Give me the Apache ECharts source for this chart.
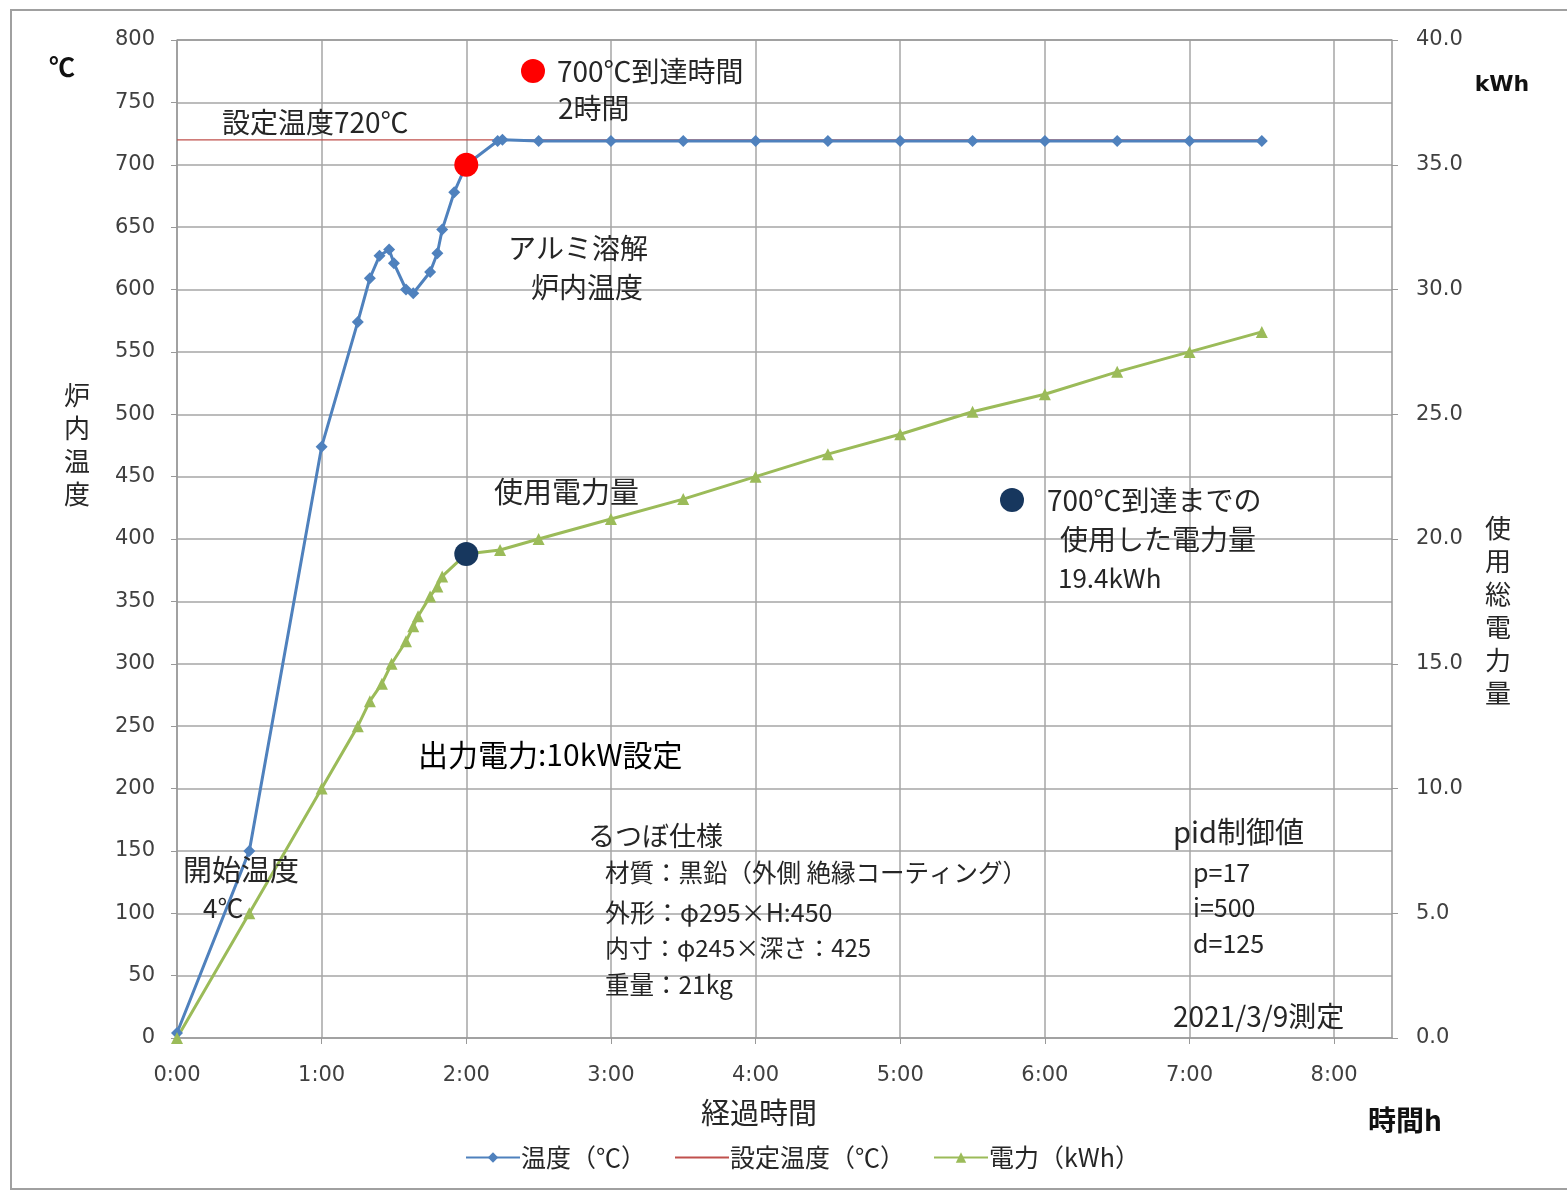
<!DOCTYPE html>
<html>
<head>
<meta charset="utf-8">
<title>アルミ溶解 炉内温度と使用電力量</title>
<script src="https://cdn.jsdelivr.net/npm/echarts@6/dist/echarts.min.js"></script>
<style>
  html, body { margin: 0; padding: 0; background: #fff; }
  #chart { width: 1567px; height: 1192px; }
</style>
</head>
<body>
<div id="chart"></div>
<script>
// Elapsed time (h:mm) and furnace temperature (℃)
const tempTimes = ['0:00','0:30','1:00','1:15','1:20','1:24','1:28','1:30','1:35','1:38','1:45','1:48','1:50','1:55','2:00','2:13','2:15','2:30','3:00','3:30','4:00','4:30','5:00','5:30','6:00','6:30','7:00','7:30'];
const tempValues = [4,150,474,574,609,627,632,621,600,597,614,629,648,678,700,719,720,719,719,719,719,719,719,719,719,719,719,719];

// Set-point temperature (℃)
const setTimes = ['0:00','7:30'];
const setValues = [720,720];

// Cumulative energy used (kWh)
const powerTimes = ['0:00','0:30','1:00','1:15','1:20','1:25','1:29','1:35','1:38','1:40','1:45','1:48','1:50','2:00','2:14','2:30','3:00','3:30','4:00','4:30','5:00','5:30','6:00','6:30','7:00','7:30'];
const powerValues = [0,5.0,10.0,12.5,13.5,14.2,15.0,15.9,16.5,16.9,17.7,18.1,18.5,19.4,19.56,20.0,20.8,21.6,22.5,23.4,24.2,25.1,25.8,26.7,27.5,28.3];

// Moment 700℃ was reached
const reachTime = '2:00';
const reachTemp = 700;
const reachEnergy = 19.4;

// Axis ticks
const hourTicks = [0,1,2,3,4,5,6,7,8];
const hourLabels = ['0:00','1:00','2:00','3:00','4:00','5:00','6:00','7:00','8:00'];

const toHours = s => { const [h, m] = s.split(':').map(Number); return h + m / 60; };
const pairs = (ts, vs) => ts.map((t, i) => [toHours(t), vs[i]]);

const JP = '"Noto Sans CJK JP", "Noto Sans", sans-serif';
const NUM = '"DejaVu Sans", Verdana, sans-serif';
const TXT = '#262626';

function txt(x, y, text, o) {
  o = o || {};
  return {
    type: 'text', x: x, y: y, z: 100,
    style: {
      text: text,
      fill: o.fill || TXT,
      font: (o.weight || 'normal') + ' ' + (o.size || 27) + 'px ' + (o.family || JP),
      textAlign: o.align || 'left',
      textVerticalAlign: 'middle',
      verticalAlign: 'middle',
      lineHeight: o.lineHeight
    }
  };
}

const chart = echarts.init(document.getElementById('chart'), null, { renderer: 'canvas' });

const option = {
  backgroundColor: '#fff',
  animation: false,
  grid: { left: 177, top: 40, width: 1215, height: 998, containLabel: false },
  legend: {
    left: 460, top: 1140,
    itemWidth: 54, itemHeight: 13, itemGap: 28,
    textStyle: { fontFamily: JP, fontSize: 25, color: TXT, padding: [0, 0, 0, -4] },
    data: [
      { name: '温度（℃）' },
      { name: '設定温度（℃）', itemStyle: { opacity: 0 } },
      { name: '電力（kWh）' }
    ]
  },
  xAxis: {
    type: 'value', min: 0, max: 8.4, interval: 1,
    axisLine: { show: true, lineStyle: { color: '#999', width: 1.5 } },
    axisTick: { show: true, length: 6, inside: false, customValues: hourTicks, lineStyle: { color: '#999' } },
    axisLabel: {
      customValues: hourTicks,
      formatter: v => { const i = hourTicks.indexOf(v); return i >= 0 ? hourLabels[i] : ''; },
      fontFamily: NUM, fontSize: 21, color: '#404040', margin: 27
    },
    splitLine: { show: true, lineStyle: { color: '#a6a6a6', width: 1.5 } }
  },
  yAxis: [
    {
      type: 'value', min: 0, max: 800, interval: 50,
      axisLine: { show: true, lineStyle: { color: '#999', width: 1.5 } },
      axisTick: { show: true, length: 6, lineStyle: { color: '#999' } },
      axisLabel: { fontFamily: NUM, fontSize: 21, color: '#404040', margin: 22 },
      splitLine: { show: true, lineStyle: { color: '#a6a6a6', width: 1.5 } }
    },
    {
      type: 'value', min: 0, max: 40, interval: 5,
      axisLine: { show: true, lineStyle: { color: '#999', width: 1.5 } },
      axisTick: { show: true, length: 6, lineStyle: { color: '#999' } },
      axisLabel: { fontFamily: NUM, fontSize: 21, color: '#404040', margin: 24, formatter: v => v.toFixed(1) },
      splitLine: { show: false }
    }
  ],
  series: [
    {
      name: '温度（℃）', type: 'line', yAxisIndex: 0,
      data: pairs(tempTimes, tempValues),
      symbol: 'diamond', symbolSize: 12, showAllSymbol: true,
      lineStyle: { color: '#4f81bd', width: 3 },
      itemStyle: { color: '#4f81bd' },
      z: 3
    },
    {
      name: '設定温度（℃）', type: 'line', yAxisIndex: 0,
      data: pairs(setTimes, setValues),
      symbol: 'none',
      lineStyle: { color: '#c0504d', width: 1.3 },
      itemStyle: { color: '#c0504d' },
      z: 2
    },
    {
      name: '電力（kWh）', type: 'line', yAxisIndex: 1,
      data: pairs(powerTimes, powerValues),
      symbol: 'triangle', symbolSize: 12, showAllSymbol: true,
      lineStyle: { color: '#9bbb59', width: 3 },
      itemStyle: { color: '#9bbb59' },
      z: 3
    },
    {
      name: '700℃到達', type: 'scatter', yAxisIndex: 0,
      data: [[toHours(reachTime), reachTemp]],
      symbol: 'circle', symbolSize: 24,
      itemStyle: { color: '#ff0000', opacity: 1 }, z: 5
    },
    {
      name: '700℃到達時電力量', type: 'scatter', yAxisIndex: 1,
      data: [[toHours(reachTime), reachEnergy]],
      symbol: 'circle', symbolSize: 24,
      itemStyle: { color: '#17375e', opacity: 1 }, z: 5
    }
  ],
  graphic: [
    // chart-area frame
    { type: 'rect', shape: { x: 11, y: 10, width: 1620, height: 1179 }, style: { fill: null, stroke: '#a0a0a0', lineWidth: 2 }, z: 0, silent: true },
    // plot-area top border
    { type: 'line', shape: { x1: 177, y1: 40, x2: 1392, y2: 40 }, style: { stroke: '#999', lineWidth: 1.5 }, z: 1 },

    // axis captions
    txt(62, 67, '℃', { size: 26, weight: 'bold', align: 'center', fill: '#111' }),
    txt(77, 445, '炉\n内\n温\n度', { size: 26, align: 'center', lineHeight: 33 }),
    txt(1502, 85, 'kWh', { size: 22, weight: 'bold', align: 'center', family: NUM, fill: '#111' }),
    txt(1498, 611, '使\n用\n総\n電\n力\n量', { size: 26, align: 'center', lineHeight: 33 }),
    txt(759, 1113, '経過時間', { size: 29, align: 'center' }),
    txt(1405, 1120, '時間h', { size: 28, weight: 'bold', align: 'center', fill: '#111' }),

    // set-point note
    txt(222, 122, '設定温度720℃', { size: 28 }),

    // time to reach 700℃
    { type: 'circle', shape: { cx: 533, cy: 71, r: 12 }, style: { fill: '#ff0000' }, z: 100 },
    txt(557, 71, '700℃到達時間', { size: 28 }),
    txt(558, 108, '2時間', { size: 28 }),

    txt(508, 248, 'アルミ溶解', { size: 28 }),
    txt(531, 287, '炉内温度', { size: 28 }),
    txt(494, 492, '使用電力量', { size: 29 }),

    // energy used until 700℃
    { type: 'circle', shape: { cx: 1012, cy: 500, r: 12 }, style: { fill: '#17375e' }, z: 100 },
    txt(1047, 500, '700℃到達までの', { size: 28 }),
    txt(1060, 539, '使用した電力量', { size: 28 }),
    txt(1058, 578, '19.4kWh', { size: 26 }),

    txt(418, 755, '出力電力:10kW設定', { size: 30, fill: '#000' }),

    txt(183, 870, '開始温度', { size: 29 }),
    txt(203, 908, '4℃', { size: 26 }),

    // crucible spec
    txt(588, 836, 'るつぼ仕様', { size: 27 }),
    txt(605, 873, '材質：黒鉛（外側 絶縁コーティング）', { size: 24.5 }),
    txt(605, 912, '外形：φ295×H:450', { size: 25 }),
    txt(605, 948, '内寸：φ245×深さ：425', { size: 24 }),
    txt(605, 985, '重量：21kg', { size: 24.5 }),

    // PID settings
    txt(1173, 832, 'pid制御値', { size: 29 }),
    txt(1193, 872, 'p=17', { size: 25 }),
    txt(1193, 907, 'i=500', { size: 25 }),
    txt(1193, 943, 'd=125', { size: 25 }),

    txt(1173, 1016, '2021/3/9測定', { size: 28 })
  ]
};

chart.setOption(option);
</script>
</body>
</html>
